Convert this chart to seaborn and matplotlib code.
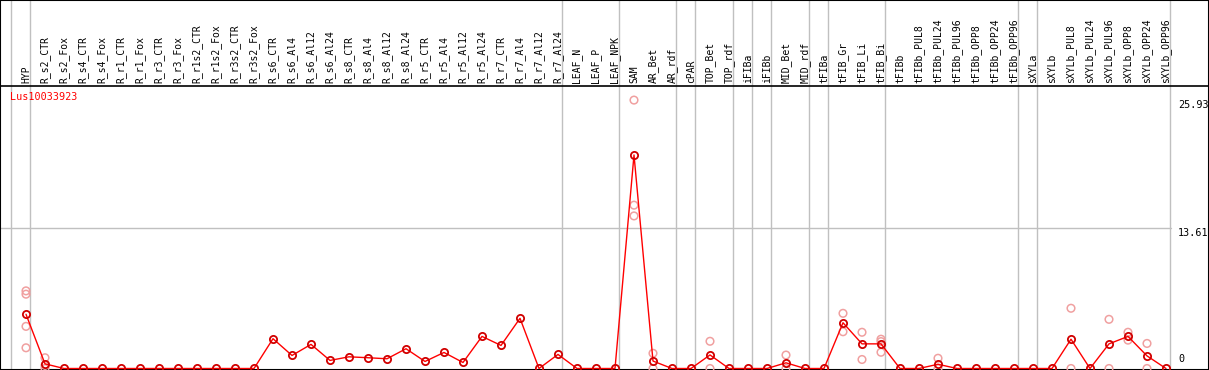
import pandas as pd
import matplotlib
matplotlib.use("Agg")
import matplotlib.pyplot as plt
import seaborn as sns

samples = ["HYP",
           "R_s2_CTR", "R_s2_Fox", "R_s4_CTR", "R_s4_Fox", "R_r1_CTR", "R_r1_Fox",
           "R_r3_CTR", "R_r3_Fox", "R_r1s2_CTR", "R_r1s2_Fox", "R_r3s2_CTR", "R_r3s2_Fox",
           "R_s6_CTR", "R_s6_Al4", "R_s6_Al12", "R_s6_Al24",
           "R_s8_CTR", "R_s8_Al4", "R_s8_Al12", "R_s8_Al24",
           "R_r5_CTR", "R_r5_Al4", "R_r5_Al12", "R_r5_Al24",
           "R_r7_CTR", "R_r7_Al4", "R_r7_Al12", "R_r7_Al24",
           "LEAF_N", "LEAF_P", "LEAF_NPK", "SAM", "AR_Bet", "AR_rdf", "cPAR",
           "TOP_Bet", "TOP_rdf", "iFIBa", "iFIBb", "MID_Bet", "MID_rdf", "tFIBa",
           "tFIB_Gr", "tFIB_Li", "tFIB_Bi", "tFIBb",
           "tFIBb_PUL8", "tFIBb_PUL24", "tFIBb_PUL96", "tFIBb_OPP8", "tFIBb_OPP24", "tFIBb_OPP96",
           "sXYLa", "sXYLb",
           "sXYLb_PUL8", "sXYLb_PUL24", "sXYLb_PUL96", "sXYLb_OPP8", "sXYLb_OPP24", "sXYLb_OPP96"]

# mean expression per sample
means = [5.24,
         0.45, 0, 0, 0, 0, 0, 0, 0, 0, 0, 0, 0,
         2.88, 1.26, 2.33, 0.78,
         1.13, 1.04, 0.94, 1.91,
         0.68, 1.55, 0.58, 3.10,
         2.23, 4.85, 0, 1.36,
         0, 0, 0, 20.63, 0.72, 0, 0,
         1.31, 0, 0, 0, 0.55, 0, 0,
         4.42, 2.38, 2.38, 0,
         0, 0.41, 0, 0, 0, 0,
         0, 0,
         2.83, 0, 2.38, 3.10, 1.22, 0]

# individual replicates that are visible
rep_sample = ["HYP", "HYP", "HYP", "HYP", "R_s2_CTR", "R_s2_CTR", "R_s2_CTR",
              "SAM", "SAM", "SAM", "AR_Bet", "AR_Bet", "TOP_Bet", "TOP_Bet",
              "MID_Bet", "MID_Bet", "tFIB_Gr", "tFIB_Gr", "tFIB_Li", "tFIB_Li",
              "tFIB_Bi", "tFIB_Bi", "tFIB_Bi", "tFIBb_PUL24", "tFIBb_PUL24",
              "sXYLb_PUL8", "sXYLb_PUL8", "sXYLb_PUL96", "sXYLb_PUL96",
              "sXYLb_OPP8", "sXYLb_OPP8", "sXYLb_OPP24", "sXYLb_OPP24"]
rep_value = [7.5, 7.18, 4.07, 2.0, 1.04, 0.3, 0.0,
             25.93, 15.78, 14.74, 1.47, 0.0, 2.63, 0.0,
             1.3, 0.0, 5.33, 3.55, 3.5, 0.87,
             2.83, 2.6, 1.57, 0.99, 0.0,
             5.82, 0.0, 4.75, 0.0,
             3.5, 2.74, 2.42, 0.0]

# group separators (after these sample names)
group_ends = ["HYP", "R_r7_Al24", "LEAF_NPK", "AR_rdf", "cPAR", "TOP_rdf", "iFIBa",
              "iFIBb", "MID_rdf", "tFIBa", "tFIB_Bi", "tFIBb_OPP96", "sXYLa", "sXYLb_OPP96"]

gene = "Lus10033923"
y_ticks = ["25.93", "13.61", "0"]

pos = {s: i for i, s in enumerate(samples)}
df = pd.DataFrame({"x": range(len(samples)), "mean": means})
reps = pd.DataFrame({"x": [pos[s] for s in rep_sample], "value": rep_value})

sns.set_style("white")
plt.rcParams["font.family"] = ["DejaVu Sans Mono", "DejaVu Sans"]

fig = plt.figure(figsize=(12.09, 3.70), dpi=100)
ax = fig.add_axes([0, 0, 1, 1])

x0 = -26 / 19
x1 = (1209 - 26) / 19
ax.set_xlim(x0, x1)
ax.set_ylim(-0.145, 35.6)

gray = "#c0c0c0"
ax.axvline(-1 + 0.22, color=gray, lw=1)
for s in group_ends:
    ax.axvline(pos[s] + 0.22, color=gray, lw=1)
ax.plot([x0, 60.26], [13.61, 13.61], color=gray, lw=1)
ax.axhline(27.34, color="black", lw=1.2)

sns.scatterplot(data=reps, x="x", y="value", ax=ax, marker="o", s=30,
                facecolors="none", edgecolor="#f0a0a0", linewidth=1.1, zorder=3)
sns.lineplot(data=df, x="x", y="mean", ax=ax, color="red", lw=1,
             marker="o", markersize=5.2, markerfacecolor="none",
             markeredgecolor="#d00000", markeredgewidth=1.3, zorder=4)

for i, s in enumerate(samples):
    ax.text(i, 27.6, s, rotation=90, ha="center", va="bottom", fontsize=7, color="black")

ax.text(x0 + 10 / 19, 26.23, gene, color="red", fontsize=7.3, va="center", ha="left")
tx = (1178 - 26) / 19
ax.text(tx, 25.93, y_ticks[0], fontsize=7.3, va="top", ha="left", color="black")
ax.text(tx, 13.61, y_ticks[1], fontsize=7.3, va="top", ha="left", color="black")
ax.text(tx, 0.4, y_ticks[2], fontsize=7.3, va="bottom", ha="left", color="black")

ax.set_xticks([])
ax.set_yticks([])
ax.set_xlabel("")
ax.set_ylabel("")
for sp in ax.spines.values():
    sp.set_visible(True)
    sp.set_color("black")
    sp.set_linewidth(1.5)

fig.savefig("out.png", dpi=100)
